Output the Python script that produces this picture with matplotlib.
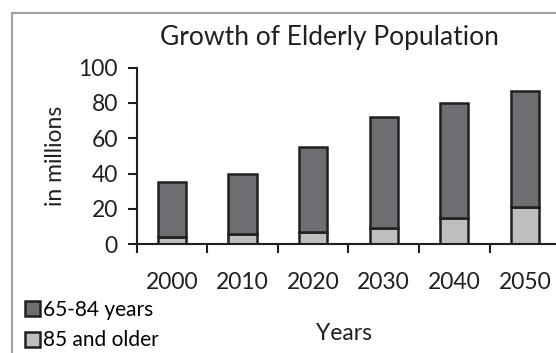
from matplotlib import pyplot as plt
from matplotlib.patches import Rectangle
import numpy as np

plt.rcParams['font.family'] = ['Lato', 'DejaVu Sans']

years = ['2000', '2010', '2020', '2030', '2040', '2050']
older85 = [4, 6, 7, 9, 15, 21]
mid6584 = [31, 34, 48, 63, 65, 66]

darkGray = '#6d6e71'
lightGray = '#bcbec0'
edge = '#231f20'

fig = plt.figure(figsize=(5.56, 3.53), dpi=100)
ax = fig.add_axes([0.2459, 0.3079, 0.7615, 0.5008])

x = np.arange(len(years))
ax.bar(x, older85, width=0.4, color=lightGray, edgecolor=edge, linewidth=1.8, label='85 and older')
ax.bar(x, mid6584, width=0.4, bottom=older85, color=darkGray, edgecolor=edge, linewidth=1.8, label='65-84 years')

ax.set_xlim(-0.5, 5.5)
ax.set_ylim(0, 100)
ax.set_yticks(np.arange(0, 101, 20))
ax.set_xticks(np.arange(-0.5, 6, 1))
ax.set_xticklabels([])
ax.set_xticks(x, minor=True)
ax.set_xticklabels(years, minor=True)
ax.tick_params(axis='x', which='major', direction='out', length=6.5, width=1.5, color=edge)
ax.tick_params(axis='x', which='minor', length=0, pad=20, labelsize=16.5, labelcolor=edge)
ax.tick_params(axis='y', direction='out', length=6.5, width=1.5, color=edge, pad=7, labelsize=16.5, labelcolor=edge)

for s in ['top', 'right']:
    ax.spines[s].set_visible(False)
for s in ['left', 'bottom']:
    ax.spines[s].set_linewidth(1.5)
    ax.spines[s].set_color(edge)
ax.spines['bottom'].set_clip_on(False)

ax.set_ylabel('in millions', fontsize=16.5, color=edge)
ax.yaxis.set_label_coords(-0.167, 0.5)
ax.set_xlabel('Years', fontsize=16.5, color=edge)
ax.xaxis.set_label_coords(0.49, -0.445)

fig.text(0.593, 0.8725, 'Growth of Elderly Population', ha='center', va='baseline', fontsize=19, color=edge)

h, l = ax.get_legend_handles_labels()
ax.legend(h[::-1], l[::-1], loc='upper left', bbox_to_anchor=(0.045, 0.150), bbox_transform=fig.transFigure,
          frameon=False, borderpad=0, fontsize=15, handlelength=0.72, handleheight=0.72, handletextpad=0.15,
          labelspacing=0.5, borderaxespad=0)

fig.patches.append(Rectangle((11.7 / 556, -0.1), 1.2, 1 - 12.7 / 353 + 0.1, transform=fig.transFigure,
                             fill=False, edgecolor='#a0a0a0', linewidth=1.5, clip_on=False))

fig.savefig('out.png', dpi=100)
